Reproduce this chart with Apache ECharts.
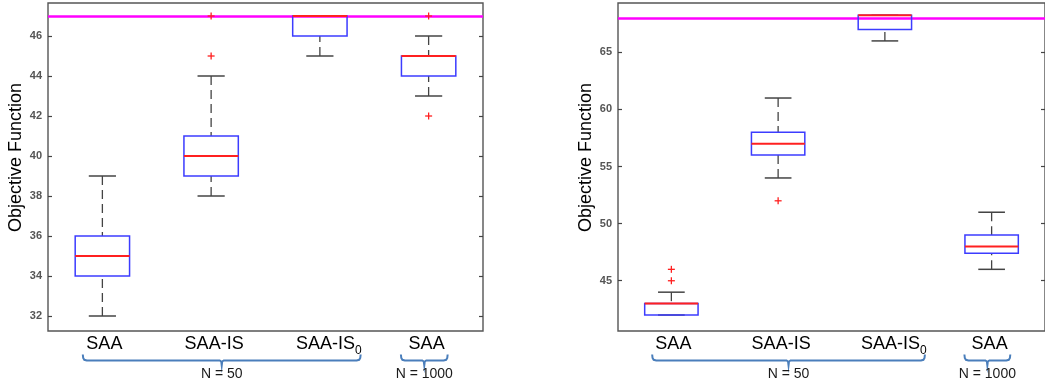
<!DOCTYPE html>
<html>
<head>
<meta charset="utf-8">
<script src="https://cdn.jsdelivr.net/npm/echarts@6/dist/echarts.min.js"></script>
<style>
  html, body { margin: 0; padding: 0; background: #fff; }
  #chart { width: 1045px; height: 388px; }
</style>
</head>
<body>
<div id="chart"></div>
<script>
const categoryKeys = ['saa50', 'saais', 'saais0', 'saa1000']
const categoryLabels = ['{a|SAA}', '{b|SAA-IS}', '{c|SAA-IS}{s|0}', '{d|SAA}']
const groupLabels = ['N = 50', 'N = 1000']

// 每个箱子: [min, q1, median, q3, max]
const leftBoxes = [
  [32, 34, 35, 36, 39],
  [38, 39, 40, 41, 44],
  [45, 46, 47, 47, 47],
  [43, 44, 45, 45, 46]
]
const leftOutliers = [[1, 45], [1, 47], [3, 42], [3, 47]]
const leftRef = 47
const leftTicks = [32, 34, 36, 38, 40, 42, 44, 46]
const leftRange = [31.25, 47.65]

const rightBoxes = [
  [42, 42, 43, 43, 44],
  [54, 56, 57, 58, 61],
  [66, 67, 68.25, 68.25, 68.25],
  [46, 47.4, 48, 49, 51]
]
const rightOutliers = [[0, 45], [0, 46], [1, 52]]
const rightRef = 68
const rightTicks = [45, 50, 55, 60, 65]
const rightRange = [40.6, 69.32]

const font = "'Liberation Sans', Arial, sans-serif"

const renderBox = (params, api) => {
  const i = api.value(0)
  const v = [1, 2, 3, 4, 5].map(k => api.value(k))
  const bw = api.size([1, 0])[0]
  const cx = api.coord([i, v[2]])[0]
  const y = val => api.coord([i, val])[1]
  const hw = bw * 0.25
  const cw = bw * 0.125
  const dash = { stroke: '#444', lineWidth: 1.3, lineDash: [9, 5] }
  const cap = { stroke: '#444', lineWidth: 1.5 }
  const children = []
  if (v[4] > v[3]) children.push({ type: 'line', shape: { x1: cx, y1: y(v[4]), x2: cx, y2: y(v[3]) }, style: dash })
  if (v[0] < v[1]) children.push({ type: 'line', shape: { x1: cx, y1: y(v[0]), x2: cx, y2: y(v[1]) }, style: dash })
  children.push({ type: 'line', shape: { x1: cx - cw, y1: y(v[4]), x2: cx + cw, y2: y(v[4]) }, style: cap })
  children.push({ type: 'line', shape: { x1: cx - cw, y1: y(v[0]), x2: cx + cw, y2: y(v[0]) }, style: cap })
  children.push({
    type: 'rect',
    shape: { x: cx - hw, y: y(v[3]), width: hw * 2, height: y(v[1]) - y(v[3]) },
    style: { fill: 'none', stroke: '#3c3cff', lineWidth: 1.5 }
  })
  children.push({
    type: 'line',
    shape: { x1: cx - hw, y1: y(v[2]), x2: cx + hw, y2: y(v[2]) },
    style: { stroke: '#ff2020', lineWidth: 2 }
  })
  return { type: 'group', children }
}

const renderPlus = (params, api) => {
  const p = api.coord([api.value(0), api.value(1)])
  const s = 3.5
  const st = { stroke: '#ff2020', lineWidth: 1.3 }
  return {
    type: 'group',
    children: [
      { type: 'line', shape: { x1: p[0] - s, y1: p[1], x2: p[0] + s, y2: p[1] }, style: st },
      { type: 'line', shape: { x1: p[0], y1: p[1] - s, x2: p[0], y2: p[1] + s }, style: st }
    ]
  }
}

const labelRich = {
  a: { fontSize: 18, fontFamily: font, color: '#000', lineHeight: 26, padding: [0, 0, 0, 4] },
  b: { fontSize: 18, fontFamily: font, color: '#000', lineHeight: 26, padding: [0, 0, 0, 6] },
  c: { fontSize: 18, fontFamily: font, color: '#000', lineHeight: 26, padding: [0, 0, 0, 18] },
  s: { fontSize: 12, fontFamily: font, color: '#000', lineHeight: 12, verticalAlign: 'bottom' },
  d: { fontSize: 18, fontFamily: font, color: '#000', lineHeight: 26, padding: [0, 4, 0, 0] }
}

const makeX = g => ({
  type: 'category',
  gridIndex: g,
  data: categoryKeys,
  boundaryGap: true,
  axisLine: { show: false },
  axisTick: { show: false },
  axisLabel: {
    margin: 0,
    interval: 0,
    formatter: (val, idx) => categoryLabels[idx],
    rich: labelRich
  }
})

const makeY = (g, range, ticks, side) => ({
  type: 'value',
  gridIndex: g,
  position: side,
  min: range[0],
  max: range[1],
  name: side === 'left' ? 'Objective Function' : '',
  nameLocation: 'middle',
  nameGap: 23,
  nameTextStyle: { fontSize: 18, fontFamily: font, color: '#000', padding: [0, 0, 0, 19] },
  axisLine: { show: false },
  splitLine: { show: false },
  axisTick: { show: true, inside: true, length: 4, customValues: ticks, lineStyle: { color: '#444', width: 1.2 } },
  axisLabel: {
    show: side === 'left',
    customValues: ticks,
    margin: 6,
    fontSize: 11,
    fontWeight: 'bold',
    fontFamily: font,
    color: '#555'
  }
})

const makeSeries = (g, boxes, outliers, ref) => [
  {
    type: 'line',
    xAxisIndex: g,
    yAxisIndex: g * 2,
    data: [],
    z: 1,
    markLine: {
      z: 1,
      silent: true,
      symbol: 'none',
      label: { show: false },
      lineStyle: { color: '#ff00ff', width: 2.5, type: 'solid' },
      data: [{ yAxis: ref }]
    }
  },
  {
    type: 'custom',
    xAxisIndex: g,
    yAxisIndex: g * 2,
    z: 3,
    renderItem: renderBox,
    encode: { x: 0, y: [1, 2, 3, 4, 5] },
    data: boxes.map((b, i) => [i, ...b])
  },
  {
    type: 'custom',
    xAxisIndex: g,
    yAxisIndex: g * 2,
    z: 4,
    renderItem: renderPlus,
    encode: { x: 0, y: 1 },
    data: outliers
  }
]

const chart = echarts.init(document.getElementById('chart'))
chart.setOption({
  animation: false,
  backgroundColor: '#fff',
  grid: [
    { left: 48, top: 3, width: 435, height: 328, show: true, borderColor: '#555', borderWidth: 1.4 },
    { left: 618, top: 3, width: 433, height: 328, show: true, borderColor: '#555', borderWidth: 1.4 }
  ],
  xAxis: [makeX(0), makeX(1)],
  yAxis: [
    makeY(0, leftRange, leftTicks, 'left'),
    makeY(0, leftRange, leftTicks, 'right'),
    makeY(1, rightRange, rightTicks, 'left'),
    makeY(1, rightRange, rightTicks, 'right')
  ],
  series: [
    ...makeSeries(0, leftBoxes, leftOutliers, leftRef),
    ...makeSeries(1, rightBoxes, rightOutliers, rightRef)
  ]
})

// 下方的大括号和 N 标注
const ranges = [leftRange, rightRange]
const spans = [[0, -0.18, 2, 0.375], [3, -0.255, 3, 0.175]]
const graphics = []
;[0, 1].forEach(g => {
  const px = i => chart.convertToPixel({ xAxisIndex: g }, i)
  const band = px(1) - px(0)
  const yb = chart.convertToPixel({ yAxisIndex: g * 2 }, ranges[g][0])
  const y0 = yb + 29.5
  spans.forEach((sp, k) => {
    const a = px(sp[0]) + sp[1] * band
    const b = px(sp[2]) + sp[3] * band
    const c = (a + b) / 2
    graphics.push({
      type: 'polyline',
      shape: {
        points: [
          [a, y0 - 6], [a + 0.4, y0 - 2.5], [a + 1.5, y0 - 0.7], [a + 4, y0],
          [c - 2, y0], [c - 0.5, y0 + 1], [c, y0 + 5], [c + 0.5, y0 + 1], [c + 2, y0],
          [b - 4, y0], [b - 1.5, y0 - 0.7], [b - 0.4, y0 - 2.5], [b, y0 - 6]
        ]
      },
      style: { stroke: '#4a7ebb', lineWidth: 2, fill: 'none' }
    })
    graphics.push({
      type: 'text',
      x: c,
      y: yb + 43.5,
      style: {
        text: groupLabels[k],
        fontSize: 14,
        fontFamily: font,
        fill: '#1a1a1a',
        align: 'center',
        verticalAlign: 'middle'
      }
    })
  })
})
chart.setOption({ graphic: graphics })
</script>
</body>
</html>
